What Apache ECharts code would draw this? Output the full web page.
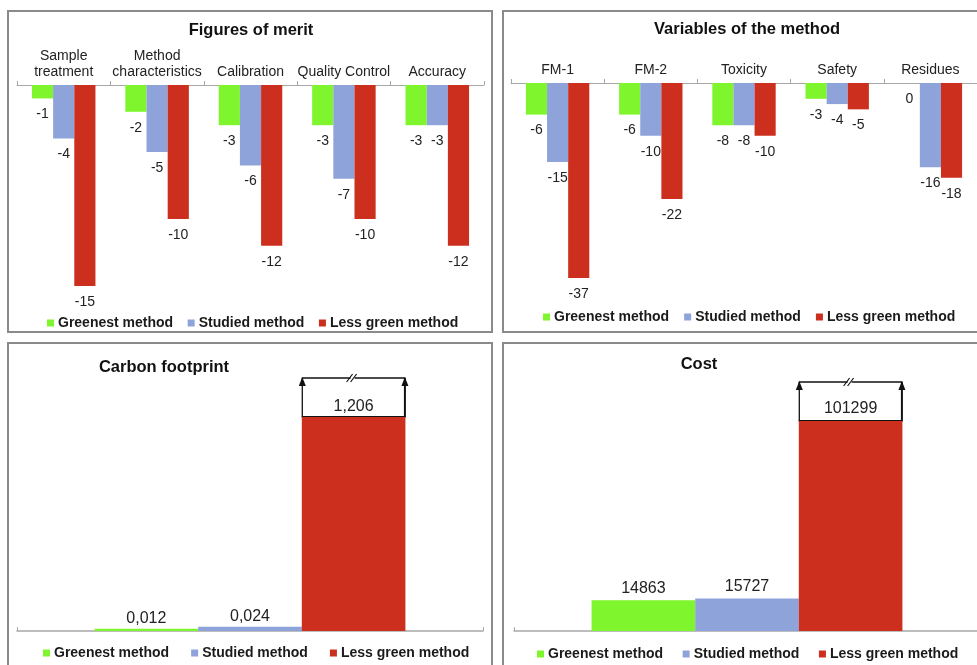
<!DOCTYPE html>
<html>
<head>
<meta charset="utf-8">
<script src="https://cdn.jsdelivr.net/npm/echarts@6/dist/echarts.min.js"></script>
<style>
  html, body { margin: 0; padding: 0; background: #fff; }
  #chart { width: 977px; height: 665px; }
</style>
</head>
<body>
<div id="chart"></div>
<script>
// ---- data ----
const seriesNames = ['Greenest method', 'Studied method', 'Less green method'];

const meritCategories = ['Sample\ntreatment', 'Method\ncharacteristics', 'Calibration', 'Quality Control', 'Accuracy'];
const meritGreenest = [-1, -2, -3, -3, -3];
const meritStudied  = [-4, -5, -6, -7, -3];
const meritLess     = [-15, -10, -12, -10, -12];

const variableCategories = ['FM-1', 'FM-2', 'Toxicity', 'Safety', 'Residues'];
const variableGreenest = [-6, -6, -8, -3, 0];
const variableStudied  = [-15, -10, -8, -4, -16];
const variableLess     = [-37, -22, -10, -5, -18];

const carbonCategories = [''];
const carbonGreenest = [0.012];
const carbonStudied  = [0.024];
const carbonLess     = [1.206];

const costCategories = [''];
const costGreenest = [14863];
const costStudied  = [15727];
const costLess     = [101299];

// ---- styling ----
const COLORS = ['#7ef52c', '#8ea3d9', '#cc2f1e'];
const FONT = 'Liberation Sans, Arial, sans-serif';
const TOP_GAP = 0.32;     // category gap in the two upper panels
const BOTTOM_GAP = 0.333; // category gap in the two lower panels

const chart = echarts.init(document.getElementById('chart'), null, { renderer: 'canvas' });

function gridDef(left, top, width, height) {
  return { left, top, width, height, containLabel: false, outerBoundsMode: 'none' };
}

function topAxis(gridIndex, cats) {
  return {
    type: 'category', gridIndex, data: cats, position: 'top',
    axisLine: { lineStyle: { color: '#a8a8a8', width: 1 } },
    axisTick: { show: true, length: 4, lineStyle: { color: '#a8a8a8' } },
    axisLabel: { interval: 0, color: '#222', fontFamily: FONT, fontSize: 14, lineHeight: 16, margin: 5 },
    splitLine: { show: false }
  };
}

function bottomAxis(gridIndex, cats) {
  return {
    type: 'category', gridIndex, data: cats, position: 'bottom',
    axisLine: { lineStyle: { color: '#a8a8a8', width: 1.5 } },
    axisTick: { show: true, inside: true, length: 4, lineStyle: { color: '#a8a8a8' } },
    axisLabel: { show: false },
    splitLine: { show: false }
  };
}

function hiddenValueAxis(gridIndex, extra) {
  return Object.assign({
    type: 'value', gridIndex, show: false, splitLine: { show: false }
  }, extra);
}

function negBars(idx, arrays) {
  return arrays.map((arr, i) => ({
    name: seriesNames[i], type: 'bar', xAxisIndex: idx, yAxisIndex: idx,
    data: arr, barGap: '0%', barCategoryGap: (TOP_GAP * 100) + '%',
    itemStyle: { color: COLORS[i] },
    label: {
      show: true, position: 'bottom', distance: 9,
      color: '#222', fontFamily: FONT, fontSize: 14
    },
    animation: false
  }));
}

function commaFormat(p) { return String(p.value).replace('.', ','); }

function posBars(idx, arrays, comma) {
  return arrays.map((arr, i) => ({
    name: seriesNames[i], type: 'bar', xAxisIndex: idx, yAxisIndex: idx,
    data: arr, barGap: '0%', barCategoryGap: (BOTTOM_GAP * 100) + '%',
    itemStyle: { color: COLORS[i] },
    label: {
      show: true, position: 'top', distance: comma ? 2 : 4,
      color: '#222', fontFamily: FONT, fontSize: 16,
      formatter: comma ? commaFormat : '{c}'
    },
    z: 3,
    animation: false
  }));
}

// outlined box with upward arrows and a break mark sitting on top of the tallest bar
function breakBox(idx, values) {
  return {
    type: 'custom', xAxisIndex: idx, yAxisIndex: idx, z: 1, silent: true,
    data: values.map((v, k) => [k, v]),
    encode: { x: 0, y: 1 },
    renderItem(params, api) {
      const c = api.coord([api.value(0), api.value(1)]);
      const band = api.size([1, 0])[0];
      const group = band * (1 - BOTTOM_GAP);
      const barW = group / 3;
      const x1 = c[0] + group / 2;
      const x0 = x1 - barW;
      const yb = c[1];
      const h = 39;
      const yt = yb - h;
      const cx = (x0 + x1) / 2;
      const ink = '#111';
      return {
        type: 'group',
        children: [
          { type: 'rect', shape: { x: x0, y: yt, width: barW, height: h },
            style: { fill: '#fff', stroke: null } },
          { type: 'line', shape: { x1: x0, y1: yt, x2: x1, y2: yt }, style: { stroke: ink, lineWidth: 1.5 } },
          { type: 'line', shape: { x1: x0, y1: yb, x2: x1, y2: yb }, style: { stroke: ink, lineWidth: 2 } },
          { type: 'line', shape: { x1: x0 + 0.5, y1: yt, x2: x0 + 0.5, y2: yb }, style: { stroke: ink, lineWidth: 1.3 } },
          { type: 'line', shape: { x1: x1 - 0.5, y1: yt, x2: x1 - 0.5, y2: yb }, style: { stroke: ink, lineWidth: 2 } },
          { type: 'polygon', shape: { points: [[x0 - 3, yt + 8], [x0 + 0.5, yt - 1], [x0 + 4, yt + 8]] }, style: { fill: ink } },
          { type: 'polygon', shape: { points: [[x1 - 4, yt + 8], [x1 - 0.5, yt - 1], [x1 + 3, yt + 8]] }, style: { fill: ink } },
          { type: 'rect', shape: { x: cx - 3, y: yt - 2, width: 4, height: 4 }, style: { fill: '#fff' } },
          { type: 'line', shape: { x1: cx - 7, y1: yt + 4, x2: cx - 1, y2: yt - 4 }, style: { stroke: ink, lineWidth: 1.2 } },
          { type: 'line', shape: { x1: cx - 3, y1: yt + 4, x2: cx + 3, y2: yt - 4 }, style: { stroke: ink, lineWidth: 1.2 } }
        ]
      };
    },
    animation: false
  };
}

function legendDef(left, top, gap) {
  return {
    data: seriesNames, left, top, orient: 'horizontal', itemGap: gap,
    icon: 'rect', itemWidth: 7, itemHeight: 7, padding: 0, selectedMode: false,
    textStyle: { fontFamily: FONT, fontSize: 14, fontWeight: 'bold', color: '#1a1a1a', padding: [0, 0, 0, -1] }
  };
}

function titleDef(text, left, top) {
  return {
    text, left, top, textAlign: 'center', padding: 0,
    textStyle: { fontFamily: FONT, fontSize: 16.5, fontWeight: 'bold', color: '#111' }
  };
}

function panel(x, y, w, h) {
  return {
    type: 'rect', shape: { x, y, width: w, height: h }, silent: true, z: 0,
    style: { fill: null, stroke: '#8a8a8a', lineWidth: 2 }
  };
}

const option = {
  backgroundColor: '#fff',
  animation: false,
  color: COLORS,
  title: [
    titleDef('Figures of merit', 251, 22),
    titleDef('Variables of the method', 747, 21),
    titleDef('Carbon footprint', 164, 359),
    titleDef('Cost', 699, 356)
  ],
  legend: [
    legendDef(47, 316, 14.5),
    legendDef(543, 310, 15),
    legendDef(43, 646, 22),
    legendDef(537, 647, 19.5)
  ],
  graphic: [
    panel(8, 11, 484, 321),
    panel(503, 11, 484, 321),
    panel(8, 343, 484, 330),
    panel(503, 343, 484, 330)
  ],
  grid: [
    gridDef(17, 85, 467, 201),
    gridDef(511, 83, 466, 195),
    gridDef(17, 417, 466, 214),
    gridDef(514, 421, 466, 210)
  ],
  xAxis: [
    topAxis(0, meritCategories),
    topAxis(1, variableCategories),
    bottomAxis(2, carbonCategories),
    bottomAxis(3, costCategories)
  ],
  yAxis: [
    hiddenValueAxis(0, { min: 'dataMin', max: 0 }),
    hiddenValueAxis(1, { min: 'dataMin', max: 0 }),
    hiddenValueAxis(2, { min: 0, max: 'dataMax' }),
    hiddenValueAxis(3, { min: 0, max: 'dataMax' })
  ],
  series: [].concat(
    negBars(0, [meritGreenest, meritStudied, meritLess]),
    negBars(1, [variableGreenest, variableStudied, variableLess]),
    posBars(2, [carbonGreenest, carbonStudied, carbonLess], true),
    [breakBox(2, carbonLess)],
    posBars(3, [costGreenest, costStudied, costLess], false),
    [breakBox(3, costLess)]
  )
};

chart.setOption(option);
</script>
</body>
</html>
